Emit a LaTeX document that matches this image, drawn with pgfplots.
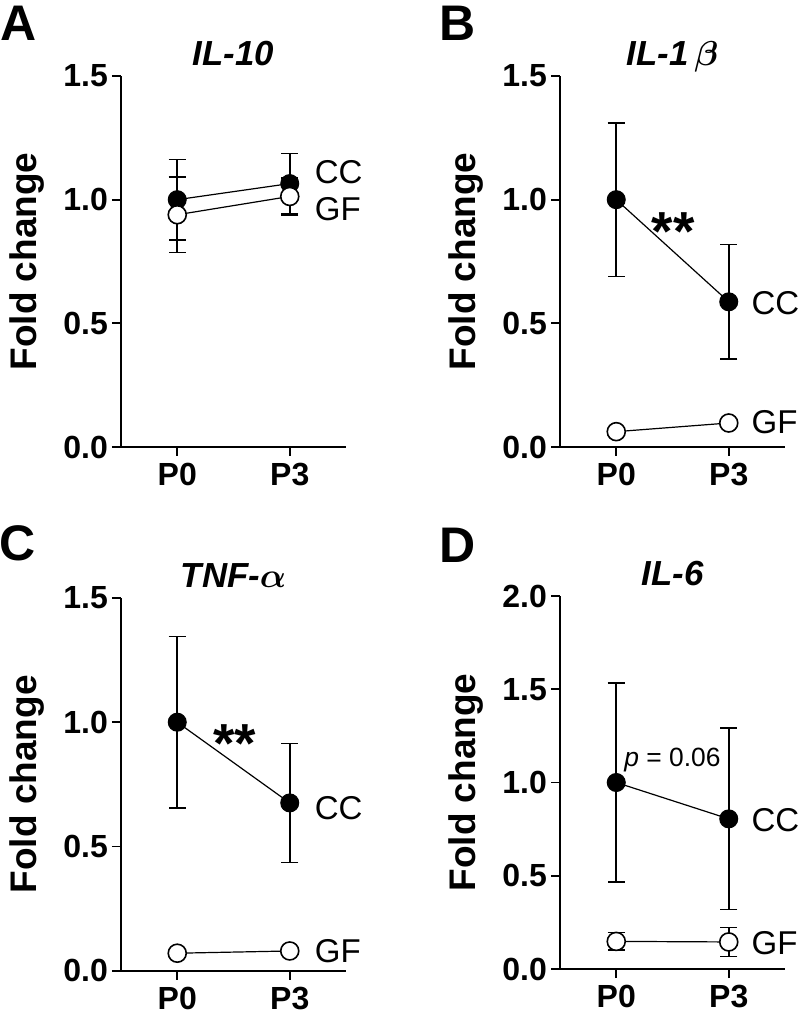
\documentclass[border=0pt]{standalone}
\usepackage{fontspec}
\setmainfont{Liberation Sans}
\usepackage{pgfplots}
\pgfplotsset{compat=1.18}

\pgfplotsset{
  panel/.style={
    scale only axis, width=112.5pt, anchor=south west,
    axis x line*=bottom, axis y line*=left,
    axis line style={line width=0.9pt},
    tick style={line width=0.9pt, black},
    tick align=outside, major tick length=4.5pt,
    xmin=-0.5, xmax=1.5, xtick={0,1}, xticklabels={P0,P3},
    ymin=0,
    ticklabel style={font=\fontsize{16}{18}\selectfont\bfseries},
    yticklabel style={xshift=1.5pt},
    every axis title/.style={at={(0.5,1)}, anchor=base, yshift=5pt,
      font=\fontsize{17.4}{19}\selectfont\bfseries\itshape\boldmath},
    ylabel={Fold change},
    every axis y label/.style={at={(rel axis cs:0,0.5)}, xshift=-47pt,
      rotate=90, anchor=center, font=\fontsize{18.5}{20}\selectfont\bfseries},
    clip=false,
  },
  cc/.style={black, line width=0.6pt, mark=*, mark size=4.5pt,
    mark options={fill=black, line width=0.5pt},
    error bars/.cd, y dir=both, y explicit,
    error bar style={line width=0.8pt},
    error mark options={rotate=90, mark size=4.3pt, line width=0.8pt}},
  gf/.style={black, line width=0.6pt, mark=*, mark size=4.5pt,
    mark options={fill=white, line width=0.8pt},
    error bars/.cd, y dir=both, y explicit,
    error bar style={line width=0.8pt},
    error mark options={rotate=90, mark size=4.3pt, line width=0.8pt}},
}
\tikzset{
  grp/.style={font=\fontsize{16.5}{18}\selectfont, anchor=west, inner sep=0pt},
  stars/.style={font=\fontsize{27.5}{29}\selectfont\bfseries},
  letter/.style={font=\fontsize{25}{27}\selectfont\bfseries},
}

\begin{document}
\begin{tikzpicture}
\useasboundingbox (0,0) rectangle (400pt,508.5pt);

% panel letters
\node[letter] at (9.5pt,497pt) {A};
\node[letter] at (229pt,497pt) {B};
\node[letter] at (9pt,237pt) {C};
\node[letter] at (229pt,236pt) {D};

% A: IL-10
\begin{axis}[panel, at={(60.5pt,285pt)}, height=185.5pt,
  ymax=1.5, ytick={0,0.5,1,1.5}, yticklabels={0.0,0.5,1.0,1.5},
  title={IL-10}]
\addplot[cc] coordinates {(0,1.0) +- (0,0.162) (1,1.065) +- (0,0.121)};
\addplot[gf] coordinates {(0,0.939) +- (0,0.153) (1,1.013) +- (0,0.074)};
\node[grp] at (axis cs:1.22,1.11) {CC};
\node[grp] at (axis cs:1.22,0.96) {GF};
\end{axis}

% B: IL-1beta
\begin{axis}[panel, at={(280pt,285pt)}, height=185.5pt,
  ymax=1.5, ytick={0,0.5,1,1.5}, yticklabels={0.0,0.5,1.0,1.5},
  title={IL-1\,$\beta$}]
\addplot[cc] coordinates {(0,1.0) +- (0,0.31) (1,0.587) +- (0,0.232)};
\addplot[gf] coordinates {(0,0.062) (1,0.097)};
\node[grp] at (axis cs:1.2,0.58) {CC};
\node[grp] at (axis cs:1.2,0.10) {GF};
\node[stars] at (axis cs:0.505,0.87) {**};
\end{axis}

% C: TNF-alpha
\begin{axis}[panel, at={(60.5pt,23.2pt)}, height=186.3pt,
  ymax=1.5, ytick={0,0.5,1,1.5}, yticklabels={0.0,0.5,1.0,1.5},
  title={TNF-$\alpha$}]
\addplot[cc] coordinates {(0,1.0) +- (0,0.345) (1,0.675) +- (0,0.24)};
\addplot[gf] coordinates {(0,0.07) (1,0.079)};
\node[grp] at (axis cs:1.22,0.656) {CC};
\node[grp] at (axis cs:1.22,0.08) {GF};
\node[stars] at (axis cs:0.51,0.915) {**};
\end{axis}

% D: IL-6
\begin{axis}[panel, at={(280pt,24pt)}, height=186.5pt,
  ymax=2.0, ytick={0,0.5,1,1.5,2}, yticklabels={0.0,0.5,1.0,1.5,2.0},
  title={IL-6}]
\addplot[cc] coordinates {(0,1.0) +- (0,0.533) (1,0.805) +- (0,0.487)};
\addplot[gf] coordinates {(0,0.148) +- (0,0.047) (1,0.145) +- (0,0.077)};
\node[grp] at (axis cs:1.2,0.80) {CC};
\node[grp] at (axis cs:1.2,0.14) {GF};
\node[font=\fontsize{13.2}{15}\selectfont] at (axis cs:0.5,1.12) {\textit{p} = 0.06};
\end{axis}
\end{tikzpicture}
\end{document}
